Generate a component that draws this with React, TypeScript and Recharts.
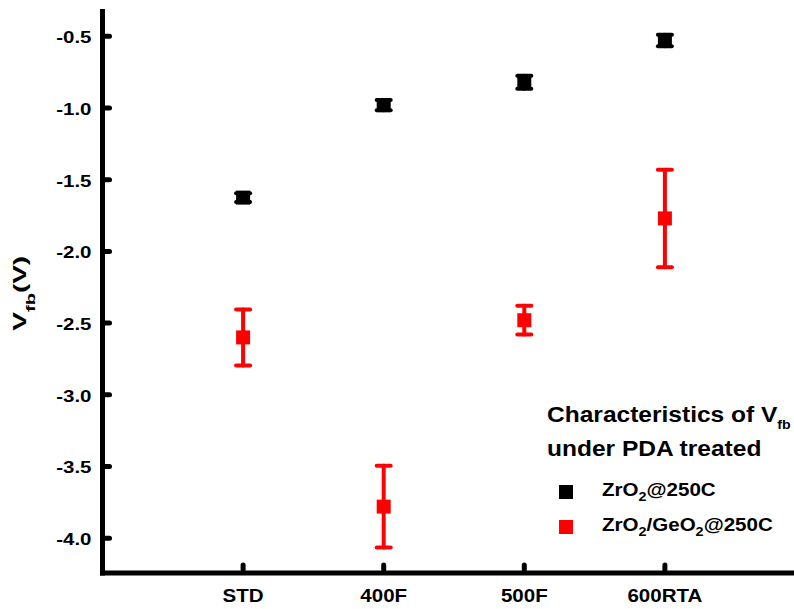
import React from 'react';
import {
  ScatterChart,
  Scatter,
  XAxis,
  YAxis,
  ZAxis,
  ErrorBar,
  Legend,
} from 'recharts';

// PDA treatment conditions along the x axis
const categories = ['STD', '400F', '500F', '600RTA'];

// the two gate stacks, in legend order
const seriesNames = ['ZrO2@250C', 'ZrO2/GeO2@250C'];

// flat-band voltage (V) and its spread for each stack
const zro2Vfb = [-1.625, -0.98, -0.82, -0.53];
const zro2Err = [0.03, 0.035, 0.045, 0.04];
const geo2Vfb = [-2.6, -3.78, -2.48, -1.77];
const geo2Err = [0.195, 0.285, 0.1, 0.34];

const yTicks = [-4.0, -3.5, -3.0, -2.5, -2.0, -1.5, -1.0, -0.5];
const xTicks = [1, 2, 3, 4];

const zro2Data = categories.map((c, i) => ({ x: i + 1, name: c, vfb: zro2Vfb[i], err: zro2Err[i] }));
const geo2Data = categories.map((c, i) => ({ x: i + 1, name: c, vfb: geo2Vfb[i], err: geo2Err[i] }));

const FONT = '"Liberation Sans", Arial, Helvetica, sans-serif';

const YTick = ({ x, y, payload }: any) => (
  <g>
    <line x1={x + 1.5} x2={x + 7} y1={y} y2={y} stroke="#000" strokeWidth={5} strokeLinecap="round" />
    <text
      transform={`translate(${x - 11},${y + 7}) scale(1.28,1)`}
      textAnchor="end"
      fontSize={16}
      fontWeight="bold"
      fontFamily={FONT}
      fill="#000"
    >
      {Number(payload.value).toFixed(1)}
    </text>
  </g>
);

const XTick = ({ x, y, payload }: any) => (
  <g>
    <line x1={x} x2={x} y1={y - 8} y2={y - 3.5} stroke="#000" strokeWidth={5} strokeLinecap="round" />
    <text
      transform={`translate(${x},${y + 28.7}) scale(1.11,1)`}
      textAnchor="middle"
      fontSize={18.5}
      fontWeight="bold"
      fontFamily={FONT}
      fill="#000"
    >
      {categories[payload.value - 1]}
    </text>
  </g>
);

const YTitle = ({ viewBox }: any) => {
  const cx = viewBox.x + 26;
  const cy = viewBox.y + viewBox.height / 2 + 1;
  return (
    <text
      transform={`translate(${cx},${cy}) rotate(-90) scale(1.55,1)`}
      textAnchor="middle"
      fontSize={18}
      fontWeight="bold"
      fontFamily={FONT}
      fill="#000"
    >
      V
      <tspan fontSize={13} dy={9}>fb</tspan>
      <tspan dy={-9}>(V)</tspan>
    </text>
  );
};

const Square = (color: string) => (props: any) => {
  const { cx, cy } = props;
  if (cx == null || cy == null) return null;
  return <rect x={cx - 7} y={cy - 7} width={14} height={14} fill={color} />;
};

// "ZrO2" -> ZrO with a subscript 2
const chem = (name: string) =>
  name.split(/(?<=O)(\d)/).map((part, i) =>
    i % 2 === 1 ? (
      <span key={i} style={{ fontSize: 13, verticalAlign: '-5px' }}>{part}</span>
    ) : (
      <span key={i}>{part}</span>
    )
  );

const LegendBox = ({ payload }: any) => {
  const items = [...(payload || [])].sort(
    (a: any, b: any) => seriesNames.indexOf(a.value) - seriesNames.indexOf(b.value)
  );
  return (
    <div style={{ position: 'relative', width: 260, height: 140, fontFamily: FONT, fontWeight: 'bold', color: '#000' }}>
      <div style={{ position: 'absolute', left: 0, top: 4, fontSize: 22.5, lineHeight: 1, whiteSpace: 'nowrap', transform: 'scaleX(1.09)', transformOrigin: 'left' }}>
        Characteristics of V<span style={{ fontSize: 13, verticalAlign: '-7px' }}>fb</span>
      </div>
      <div style={{ position: 'absolute', left: 0, top: 37.5, fontSize: 22.5, lineHeight: 1, whiteSpace: 'nowrap', transform: 'scaleX(1.09)', transformOrigin: 'left' }}>
        under PDA treated
      </div>
      {items.map((entry: any, i: number) => (
        <React.Fragment key={entry.value}>
          <div style={{ position: 'absolute', left: 12.5, top: 85 + i * 35, width: 14, height: 14, background: entry.color }} />
          <div style={{ position: 'absolute', left: 55.7, top: 81 + i * 35, fontSize: 18.5, lineHeight: 1, whiteSpace: 'nowrap', transform: 'scaleX(1.11)', transformOrigin: 'left' }}>
            {chem(entry.value)}
          </div>
        </React.Fragment>
      ))}
    </div>
  );
};

const axisStroke = { stroke: '#000', strokeWidth: 5, strokeLinecap: 'square' as const };

export default function App() {
  return (
    <div style={{ position: 'fixed', left: 0, top: 0, width: 794, height: 609, overflow: 'hidden', background: '#fff' }}>
      <ScatterChart width={820} height={609} margin={{ top: 11.5, right: 14.5, bottom: 0, left: 0 }}>
        <XAxis
          type="number"
          dataKey="x"
          domain={[0, 5]}
          ticks={xTicks}
          allowDataOverflow
          height={36}
          tickSize={0}
          tickMargin={0}
          tickLine={false}
          axisLine={axisStroke}
          tick={<XTick />}
          interval={0}
        />
        <XAxis
          xAxisId="top"
          orientation="top"
          type="number"
          domain={[0, 5]}
          height={0}
          tick={false}
          tickLine={false}
          axisLine={axisStroke}
        />
        <YAxis
          type="number"
          dataKey="vfb"
          domain={[-4.243, -0.327]}
          ticks={yTicks}
          allowDataOverflow
          width={102.5}
          tickSize={0}
          tickMargin={0}
          tickLine={false}
          axisLine={axisStroke}
          tick={<YTick />}
          interval={0}
          label={<YTitle />}
        />
        <ZAxis range={[196, 196]} />
        <Legend
          layout="horizontal"
          verticalAlign="middle"
          align="center"
          wrapperStyle={{ left: 546.5, top: 400, width: 260, height: 140 }}
          content={<LegendBox />}
        />
        <Scatter
          name={seriesNames[0]}
          data={zro2Data}
          fill="#000000"
          shape={Square('#000000')}
          isAnimationActive={false}
        >
          <ErrorBar dataKey="err" direction="y" width={7} stroke="#000000" strokeWidth={4} strokeLinecap="round" isAnimationActive={false} />
        </Scatter>
        <Scatter
          name={seriesNames[1]}
          data={geo2Data}
          fill="#ff0000"
          shape={Square('#ff0000')}
          isAnimationActive={false}
        >
          <ErrorBar dataKey="err" direction="y" width={7} stroke="#ff0000" strokeWidth={4} strokeLinecap="round" isAnimationActive={false} />
        </Scatter>
      </ScatterChart>
    </div>
  );
}
